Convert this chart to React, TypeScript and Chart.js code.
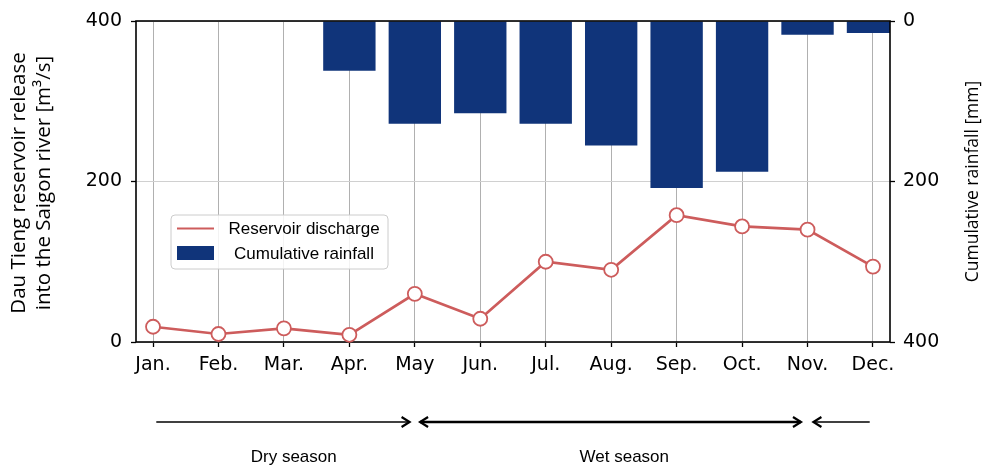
import React, { useEffect, useRef } from "react";
import { Chart, registerables } from "chart.js";

Chart.register(...registerables);

// ---- data ----
const months = ["Jan.", "Feb.", "Mar.", "Apr.", "May", "Jun.", "Jul.", "Aug.", "Sep.", "Oct.", "Nov.", "Dec."];
const discharge = [19, 10, 17, 9, 60, 29, 100, 90, 158, 144, 140, 94];
const rainfall = [0, 0, 0, 62, 128, 115, 128, 155, 208, 188, 17, 15];
const leftTicks = [0, 200, 400];
const rightTicks = [0, 200, 400];
const seriesNames = ["Reservoir discharge", "Cumulative rainfall"];
const leftTitle = ["Dau Tieng reservoir release", "into the Saigon river [m\u00B3/s]"];
const rightTitle = "Cumulative rainfall [mm]";
// season arrows in month-index units
const arrowFrom = [0.05, 4.08, 10.09];
const arrowTo = [3.92, 9.9, 10.95];
const arrowHeads = ["end", "both", "start"];
const seasonNames = ["Dry season", "Wet season"];
const seasonCenters = [2.15, 7.2];

const RED = "#cd5c5c";
const NAVY = "#10347a";

const overlay = {
  id: "overlay",
  afterDatasetDraw(chart: any, args: any) {
    if (args.index !== 1) return;
    const { ctx, chartArea: a } = chart;
    ctx.save();
    ctx.strokeStyle = "#000";
    ctx.lineWidth = 1.6;
    ctx.strokeRect(a.left, a.top, a.right - a.left, a.bottom - a.top);
    ctx.restore();
  },
  afterDraw(chart: any) {
    const { ctx, chartArea: a, scales } = chart;
    const xs = scales.x;
    ctx.save();
    // axis titles
    ctx.fillStyle = "#000";
    ctx.textAlign = "center";
    ctx.textBaseline = "alphabetic";
    const midY = (a.top + a.bottom) / 2;
    ctx.font = '20.5px "Open Sans"';
    leftTitle.forEach((t, i) => {
      ctx.save();
      ctx.translate(25 + i * 25, midY + 1.5);
      ctx.rotate(-Math.PI / 2);
      ctx.fillText(t, 0, 0);
      ctx.restore();
    });
    ctx.font = '17.5px "Open Sans"';
    ctx.save();
    ctx.translate(a.right + 88, midY);
    ctx.rotate(-Math.PI / 2);
    ctx.fillText(rightTitle, 0, 0);
    ctx.restore();

    // legend
    const lx = a.left + 35, ly = a.top + 194, lw = 217, lh = 54;
    ctx.beginPath();
    ctx.roundRect(lx, ly, lw, lh, 4);
    ctx.fillStyle = "rgba(255,255,255,0.85)";
    ctx.fill();
    ctx.strokeStyle = "#cccccc";
    ctx.lineWidth = 1;
    ctx.stroke();
    ctx.strokeStyle = RED;
    ctx.lineWidth = 2;
    ctx.beginPath();
    ctx.moveTo(lx + 6, ly + 13.5);
    ctx.lineTo(lx + 43, ly + 13.5);
    ctx.stroke();
    ctx.fillStyle = NAVY;
    ctx.fillRect(lx + 6, ly + 31, 37, 14);
    ctx.fillStyle = "#000";
    ctx.font = '17px "Liberation Sans"';
    ctx.textAlign = "center";
    ctx.fillText(seriesNames[0], lx + 133, ly + 19);
    ctx.fillText(seriesNames[1], lx + 133, ly + 44);

    // season arrows
    const ay = a.bottom + 80;
    const hl = 8, hw = 5;
    arrowFrom.forEach((f, i) => {
      const x1 = xs.getPixelForValue(f);
      const x2 = xs.getPixelForValue(arrowTo[i]);
      const heads = arrowHeads[i];
      ctx.strokeStyle = "#000";
      ctx.lineWidth = heads === "both" ? 2.6 : 1.6;
      ctx.lineCap = "butt";
      ctx.lineJoin = "miter";
      ctx.beginPath();
      ctx.moveTo(x1, ay);
      ctx.lineTo(x2, ay);
      ctx.stroke();
      ctx.lineWidth = 2.2;
      if (heads === "end" || heads === "both") {
        ctx.beginPath();
        ctx.moveTo(x2 - hl, ay - hw);
        ctx.lineTo(x2, ay);
        ctx.lineTo(x2 - hl, ay + hw);
        ctx.stroke();
      }
      if (heads === "start" || heads === "both") {
        ctx.beginPath();
        ctx.moveTo(x1 + hl, ay - hw);
        ctx.lineTo(x1, ay);
        ctx.lineTo(x1 + hl, ay + hw);
        ctx.stroke();
      }
    });
    ctx.fillStyle = "#000";
    ctx.font = '17px "Liberation Sans"';
    ctx.textAlign = "center";
    ctx.textBaseline = "alphabetic";
    seasonNames.forEach((n, i) => {
      ctx.fillText(n, xs.getPixelForValue(seasonCenters[i]), a.bottom + 120);
    });
    ctx.restore();
  },
};

export default function App() {
  const ref = useRef<HTMLCanvasElement | null>(null);
  useEffect(() => {
    if (!ref.current) return;
    const tickFont = { family: "DejaVu Sans", size: 19 };
    const chart = new Chart(ref.current, {
      type: "bar",
      data: {
        datasets: [
          {
            type: "line",
            label: seriesNames[0],
            data: discharge.map((v, i) => ({ x: i, y: v })),
            yAxisID: "y",
            borderColor: RED,
            borderWidth: 2.7,
            pointRadius: 7,
            pointBorderWidth: 1.8,
            pointBackgroundColor: "#ffffff",
            pointBorderColor: RED,
            order: 0,
            clip: false,
          } as any,
          {
            type: "bar",
            label: seriesNames[1],
            data: rainfall.map((v, i) => ({ x: i, y: v })),
            yAxisID: "y2",
            backgroundColor: NAVY,
            borderWidth: 0,
            categoryPercentage: 1,
            barPercentage: 0.8,
            order: 1,
          } as any,
        ],
      },
      options: {
        responsive: false,
        animation: false,
        layout: { padding: { top: 21, left: 0, right: 0, bottom: 0 } },
        plugins: { legend: { display: false }, tooltip: { enabled: false } },
        scales: {
          x: {
            type: "linear",
            min: -0.26,
            max: 11.26,
            offset: false,
            afterBuildTicks: (s: any) => {
              s.ticks = months.map((_, i) => ({ value: i }));
            },
            afterFit: (s: any) => {
              s.height = 123;
            },
            ticks: {
              autoSkip: false,
              maxRotation: 0,
              padding: 7,
              color: "#000",
              font: tickFont,
              callback: (v: any) => months[Math.round(v)] ?? "",
            },
            grid: { offset: false, color: "#b0b0b0", lineWidth: 1, tickColor: "#000", tickLength: 5, tickWidth: 1.3 },
            border: { display: false },
          },
          y: {
            type: "linear",
            position: "left",
            min: 0,
            max: 400,
            afterBuildTicks: (s: any) => {
              s.ticks = leftTicks.map((v) => ({ value: v }));
            },
            afterFit: (s: any) => {
              s.width = 136;
            },
            ticks: { padding: 9, color: "#000", font: tickFont },
            grid: { color: "#d0d0d0", lineWidth: 1, tickColor: "#000", tickLength: 5, tickWidth: 1.3 },
            border: { display: false },
          },
          y2: {
            type: "linear",
            position: "right",
            reverse: true,
            min: 0,
            max: 400,
            afterBuildTicks: (s: any) => {
              s.ticks = rightTicks.map((v) => ({ value: v }));
            },
            afterFit: (s: any) => {
              s.width = 93;
            },
            ticks: { padding: 8, color: "#000", font: tickFont },
            grid: { drawOnChartArea: false, tickColor: "#000", tickLength: 5, tickWidth: 1.3 },
            border: { display: false },
          },
        },
      } as any,
      plugins: [overlay],
    });
    return () => chart.destroy();
  }, []);
  return (
    <div style={{ position: "fixed", left: 0, top: 0, width: 983, height: 465, background: "#fff" }}>
      <canvas ref={ref} width={983} height={465} style={{ display: "block" }} />
    </div>
  );
}
